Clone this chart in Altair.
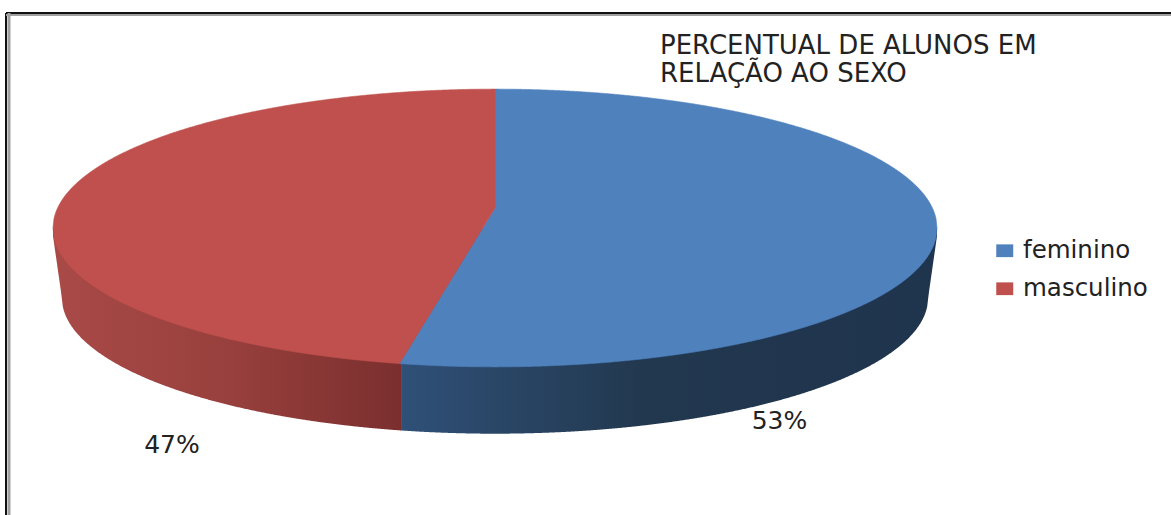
import altair as alt
import numpy as np
import pandas as pd

# Chart values
categories = ["feminino", "masculino"]
shares = [53, 47]
colors = ["#4F81BD", "#C0504D"]
title_lines = ["PERCENTUAL DE ALUNOS EM", "RELAÇÃO AO SEXO"]

FONT = "DejaVu Sans"
W, H = 1171, 515

# Perspective projection of the tilted disc: a circle seen at an angle,
# with the far side foreshortened. Units are the plot's own x/y domain.
CX, VY_TOP, VY_BOTTOM = 495.0, 208.0, 278.0
A, B, K = 437.4, 136.0, 0.144
SHRINK = 0.98


def rim(theta, vy, s=1.0):
    """Point on the disc's edge; theta runs clockwise from the far side."""
    w = 1 + K * np.cos(theta)
    return CX + s * A * np.sin(theta) / w, vy - s * B * np.cos(theta) / w


seam = 2 * np.pi * shares[0] / sum(shares)
thetas = np.linspace(0, 2 * np.pi, 1441)
tx, ty = rim(thetas, VY_TOP)
bx, by = rim(thetas, VY_BOTTOM, SHRINK)
right_i, left_i = int(np.argmax(tx)), int(np.argmin(tx))
seam_x, seam_y = rim(np.array([seam]), VY_TOP)
seam_bx, _ = rim(np.array([seam]), VY_BOTTOM, SHRINK)
seam_x, seam_y, seam_bx = float(seam_x[0]), float(seam_y[0]), float(seam_bx[0])


def arc(xs, ys, i, j):
    px, py = xs[i:j + 1], ys[i:j + 1]
    order = np.argsort(px)
    return px[order], py[order]


upper_x = np.concatenate([tx[left_i:], tx[:right_i + 1]])
upper_y = np.concatenate([ty[left_i:], ty[:right_i + 1]])
order = np.argsort(upper_x)
upper_x, upper_y = upper_x[order], upper_y[order]
lower_x, lower_y = arc(tx, ty, right_i, left_i)
wall_x, wall_y = arc(bx, by, int(np.argmax(bx)), int(np.argmin(bx)))
# The wall's silhouette runs straight from the disc's extreme to the lower rim
wall_x = np.concatenate([[tx[left_i]], wall_x, [tx[right_i]]])
wall_y = np.concatenate([[ty[left_i] + 8], wall_y, [ty[right_i] + 8]])

grid = np.unique(np.concatenate([np.linspace(tx[left_i], tx[right_i], 900), [CX, seam_x, seam_bx]]))


def slice_rows(name, xs, top_fn, bottom_fn):
    return pd.DataFrame({"x": xs, "top": top_fn(xs), "bottom": bottom_fn(xs), "sexo": name})


def top_arc(x):
    return np.interp(x, upper_x, upper_y)


def low_arc(x):
    return np.interp(x, lower_x, lower_y)


def radius(x):
    return VY_TOP + (CX - x) / (CX - seam_x) * (seam_y - VY_TOP)


blue = slice_rows(
    categories[0], grid[grid >= seam_x],
    lambda x: np.where(x < CX, radius(x), top_arc(x)), low_arc,
)
red = slice_rows(
    categories[1], grid[grid <= CX],
    top_arc, lambda x: np.where(x > seam_x, radius(x), low_arc(x)),
)
disc = pd.concat([blue, red], ignore_index=True)

mid_y = float(ty[left_i])
wall = pd.DataFrame({"x": grid, "top": mid_y, "bottom": np.interp(grid, wall_x, wall_y)})
wall_red = wall[wall["x"] <= seam_bx]
wall_blue = wall[wall["x"] >= seam_bx - 0.5]

x_scale = alt.Scale(domain=[0, W], range=[0, W], nice=False, zero=False)
y_scale = alt.Scale(domain=[0, H], range=[0, H], nice=False, zero=False)
X = alt.X("x:Q", scale=x_scale, axis=None)
Y = alt.Y("top:Q", scale=y_scale, axis=None)
Y2 = alt.Y2("bottom:Q")


def side_gradient(stops):
    return alt.Gradient(
        gradient="linear", x1=0, x2=1, y1=0, y2=0,
        stops=[alt.GradientStop(offset=o, color=c) for o, c in stops],
    )


red_side = alt.Chart(wall_red).mark_area(
    color=side_gradient([(0, "#A94A47"), (0.5, "#98403D"), (1, "#7A2F2E")])
).encode(x=X, y=Y, y2=Y2)
blue_side = alt.Chart(wall_blue).mark_area(
    color=side_gradient([(0, "#2F5077"), (0.45, "#22384F"), (1, "#1F344D")])
).encode(x=X, y=Y, y2=Y2)

color_scale = alt.Scale(domain=categories, range=colors)
top_face = alt.Chart(disc).mark_area(strokeWidth=0.6).encode(
    x=X,
    y=Y,
    y2=Y2,
    color=alt.Color(
        "sexo:N",
        scale=color_scale,
        legend=alt.Legend(
            title=None,
            orient="none",
            legendX=992.5,
            legendY=238.5,
            symbolType="M-1,-0.75H1V0.75H-1Z",
            symbolSize=289,
            symbolStrokeWidth=0,
            labelFont=FONT,
            labelFontSize=24.5,
            labelColor="#222222",
            labelOffset=6,
            rowPadding=13,
            padding=0,
        ),
    ),
    stroke=alt.Stroke("sexo:N", scale=color_scale, legend=None),
)

# Percentage labels beside the wall
labels = pd.DataFrame({
    "x": [779.5, 172.0],
    "y": [429.0, 453.0],
    "label": [f"{v}%" for v in shares],
})
value_text = alt.Chart(labels).mark_text(
    font=FONT, fontSize=25, color="#222222", align="center", baseline="alphabetic"
).encode(
    x=alt.X("x:Q", scale=x_scale, axis=None),
    y=alt.Y("y:Q", scale=y_scale, axis=None),
    text="label:N",
)

# Double-line frame around the chart
frame = pd.DataFrame({"x0": [6.0], "x1": [float(W)], "y0": [13.0], "y1": [float(H)]})
frame_parts = [
    alt.Chart(frame).mark_rule(color="#111111", strokeWidth=2).encode(
        x=alt.X("x0:Q", scale=x_scale, axis=None), x2="x1:Q", y=alt.Y("y0:Q", scale=y_scale, axis=None)),
    alt.Chart(frame).mark_rule(color="#111111", strokeWidth=2).encode(
        x=alt.X("x0:Q", scale=x_scale, axis=None), y=alt.Y("y0:Q", scale=y_scale, axis=None), y2="y1:Q"),
    alt.Chart(frame).mark_rule(color="#A0A0A0", strokeWidth=3, xOffset=3).encode(
        x=alt.X("x0:Q", scale=x_scale, axis=None), y=alt.Y("y0:Q", scale=y_scale, axis=None), y2="y1:Q"),
    alt.Chart(frame).mark_rule(color="#A0A0A0", strokeWidth=2, yOffset=2).encode(
        x=alt.X("x0:Q", scale=x_scale, axis=None), x2="x1:Q", y=alt.Y("y0:Q", scale=y_scale, axis=None)),
]

chart = alt.layer(*frame_parts, red_side, blue_side, top_face, value_text).properties(
    width=W,
    height=H,
    padding=0,
    autosize=alt.AutoSizeParams(type="none"),
    background="#FFFFFF",
    title=alt.TitleParams(
        text=title_lines,
        anchor="start",
        frame="group",
        font=FONT,
        fontSize=26,
        fontWeight="normal",
        color="#222222",
        lineHeight=28,
        baseline="top",
        align="left",
        dx=660,
        dy=87,
        offset=0,
    ),
).configure_view(stroke=None)

chart.save("out.html", embed_options={"renderer": "svg", "actions": False})
